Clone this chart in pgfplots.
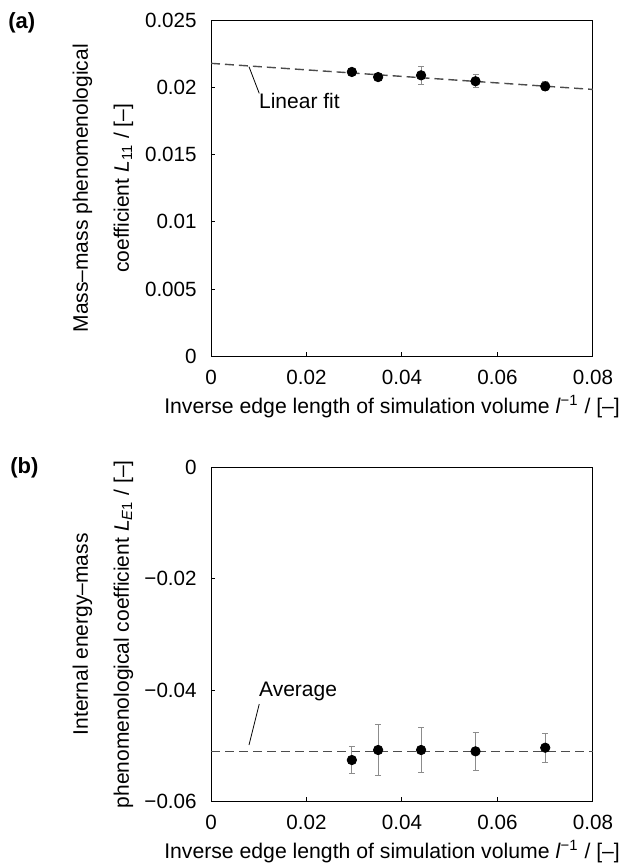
\documentclass[border=0pt]{standalone}
\usepackage{fontspec}
\setmainfont{Liberation Sans}
\usepackage{pgfplots}
\pgfplotsset{compat=1.18}
\pgfplotsset{
  common/.style={
    scale only axis, width=191pt,
    xmin=0, xmax=0.08,
    scaled ticks=false,
    xtick={0,0.02,0.04,0.06,0.08},
    xticklabels={0,0.02,0.04,0.06,0.08},
    tick align=inside, tick pos=left,
    major tick length=2.2pt,
    axis line style={line width=0.5pt},
    every tick/.style={line width=0.5pt, black},
    ticklabel style={font=\fontsize{10.3pt}{12pt}\selectfont},
    yticklabel style={inner sep=0pt, xshift=-7pt},
    xticklabel style={inner sep=0pt, yshift=-6.75pt},
    xlabel={Inverse edge length of simulation volume \textit{l}\textsuperscript{−1} / [–]},
    xlabel style={at={(axis description cs:0.474,0)}, anchor=base, yshift=-28.25pt, inner sep=0pt, font=\fontsize{10.6pt}{12pt}\selectfont},
    ylabel style={at={(axis description cs:-0.2827,0.5)}, anchor=center, align=center, inner sep=0pt, font=\fontsize{10.5pt}{20.5pt}\selectfont},
  },
  pts/.style={only marks, mark=*, mark size=2.35pt, black,
    error bars/.cd, y dir=both, y explicit,
    error bar style={black!45, line width=0.5pt},
    error mark options={rotate=90, mark size=1.5pt, black!45, line width=0.5pt}},
  fit/.style={black!70, line width=0.7pt, dash pattern=on 4.5pt off 2.5pt},
}
\begin{document}
\begin{tikzpicture}
\useasboundingbox (0pt,0pt) rectangle (311pt,-433.5pt);
\node[anchor=west, inner sep=0pt, font=\bfseries\fontsize{11pt}{12pt}\selectfont] at (4pt,-11.5pt) {(a)};
\node[anchor=west, inner sep=0pt, font=\bfseries\fontsize{11pt}{12pt}\selectfont] at (5pt,-234pt) {(b)};

\begin{axis}[common, at={(105.5pt,-10pt)}, anchor=north west, height=168.25pt,
  ymin=0, ymax=0.025,
  ytick={0,0.005,0.01,0.015,0.02,0.025},
  yticklabels={0,0.005,0.01,0.015,0.02,0.025},
  ylabel={Mass–mass phenomenological\\coefficient \textit{L}\textsubscript{11} / [–]}]
\addplot[fit] coordinates {(0,0.02178) (0.08,0.01984)};
\addplot[pts] coordinates {
  (0.0295,0.02114) +- (0,0.00022)
  (0.0350,0.02076) +- (0,0.00022)
  (0.0440,0.02089) +- (0,0.00067)
  (0.0554,0.02045) +- (0,0.00047)
  (0.0700,0.02007) +- (0,0.00033)
};
\draw[black, line width=0.4pt] (axis cs:0.00796,0.02153) -- (axis cs:0.0101,0.01955);
\node[anchor=base west, inner sep=0pt, font=\fontsize{10.5pt}{12pt}\selectfont] at (axis cs:0.0100,0.01844) {Linear fit};
\end{axis}

\begin{axis}[common, at={(105.5pt,-233.5pt)}, anchor=north west, height=167.25pt,
  ymin=-0.06, ymax=0,
  ytick={-0.06,-0.04,-0.02,0},
  yticklabels={−0.06,−0.04,−0.02,0},
  ylabel={Internal energy–mass\\phenomenological coefficient \textit{L}\textsubscript{\textit{E}1} / [–]}]
\addplot[fit] coordinates {(0,-0.05107) (0.08,-0.05107)};
\addplot[pts] coordinates {
  (0.0295,-0.05256) +- (0,0.00248)
  (0.0350,-0.05076) +- (0,0.00457)
  (0.0440,-0.05076) +- (0,0.00404)
  (0.0554,-0.05100) +- (0,0.00337)
  (0.0700,-0.05035) +- (0,0.00257)
};
\draw[black, line width=0.4pt] (axis cs:0.00796,-0.04987) -- (axis cs:0.0101,-0.04251);
\node[anchor=base west, inner sep=0pt, font=\fontsize{10.5pt}{12pt}\selectfont] at (axis cs:0.0100,-0.04108) {Average};
\end{axis}
\end{tikzpicture}
\end{document}
